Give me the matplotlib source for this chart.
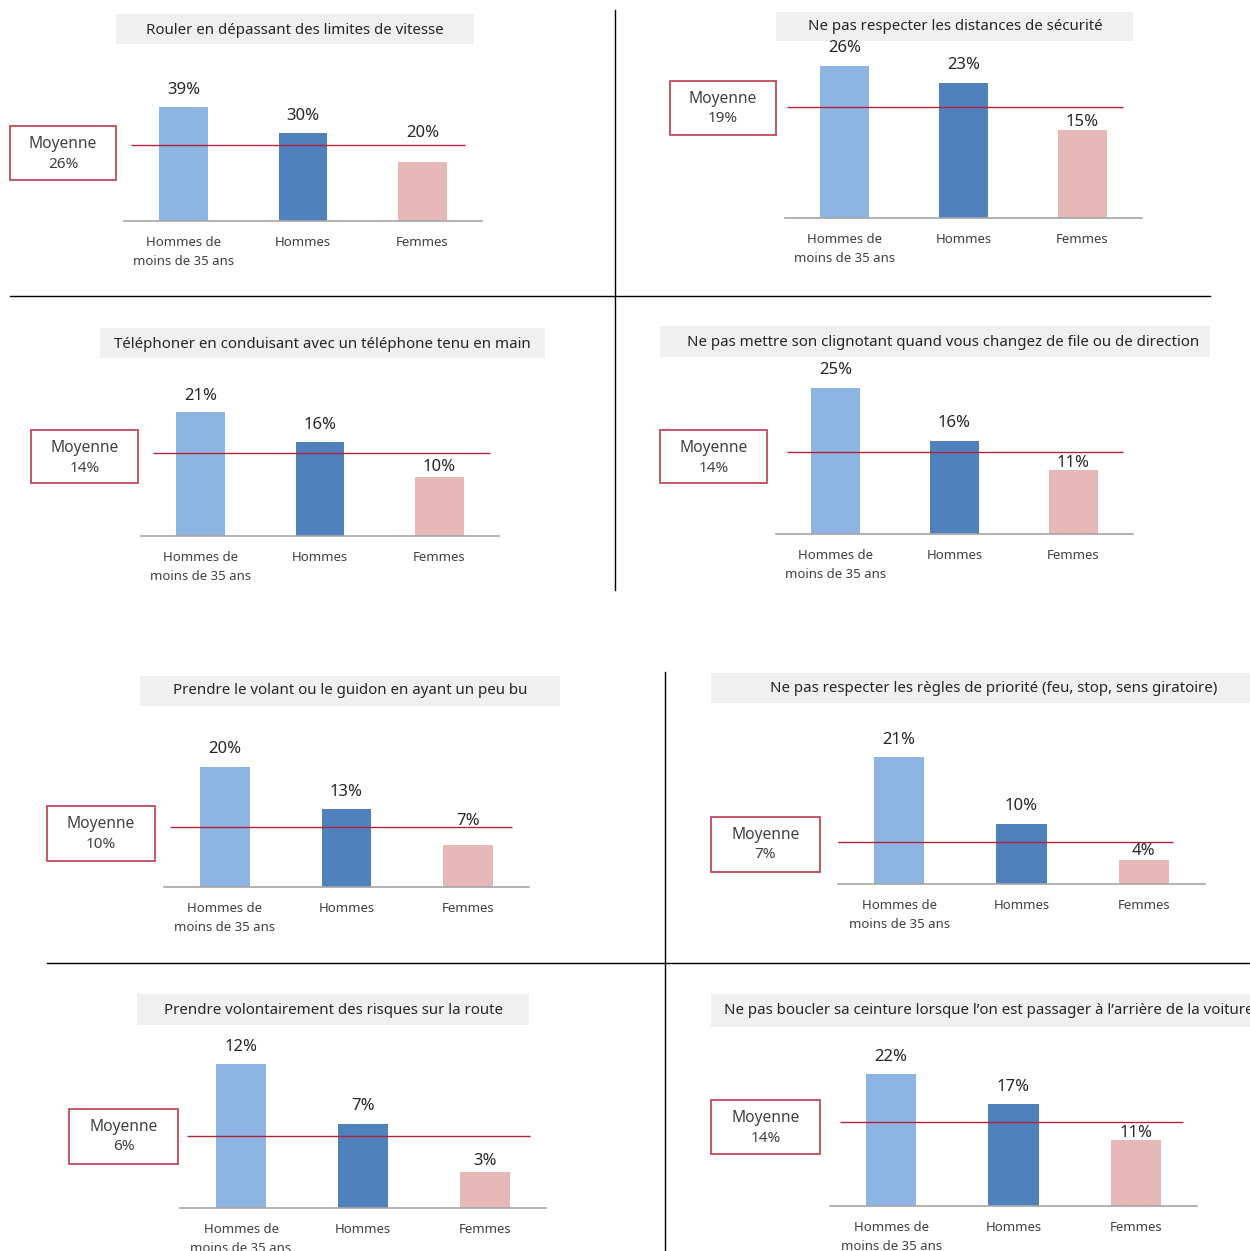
import matplotlib
matplotlib.use("Agg")
import matplotlib.pyplot as plt
from matplotlib.patches import Rectangle

plt.rcParams['font.family'] = ['Noto Sans', 'DejaVu Sans']

#%% donnees
categories = ["Hommes de\nmoins de 35 ans", "Hommes", "Femmes"]
titres = [
    "Rouler en dépassant des limites de vitesse",
    "Ne pas respecter les distances de sécurité",
    "Téléphoner en conduisant avec un téléphone tenu en main",
    "Ne pas mettre son clignotant quand vous changez de file ou de direction",
    "Prendre le volant ou le guidon en ayant un peu bu",
    "Ne pas respecter les règles de priorité (feu, stop, sens giratoire)",
    "Prendre volontairement des risques sur la route",
    "Ne pas boucler sa ceinture lorsque l’on est passager à l’arrière de la voiture",
]
valeurs = [
    [39, 30, 20],
    [26, 23, 15],
    [21, 16, 10],
    [25, 16, 11],
    [20, 13, 7],
    [21, 10, 4],
    [12, 7, 3],
    [22, 17, 11],
]
moyennes = [26, 19, 14, 14, 10, 7, 6, 14]

couleurs = ["#8DB4E2", "#4F81BD", "#E6B9B8"]
rouge_ligne = "#B0243A"
rouge_cadre = "#C0394B"

#%% mise en page (pixels de l'image)
W, H = 1250, 1251
# axe : x debut, x fin, ligne de base, px par %
axes_px = [
    (124, 482, 221, 2.93),
    (785, 1142, 218, 5.86),
    (141, 499, 536, 5.9),
    (776, 1133, 534, 5.84),
    (164, 529, 887, 6.0),
    (838, 1205, 884, 6.05),
    (180, 546, 1208, 12.0),
    (830, 1197, 1206, 6.0),
]
ligne_px = [(131, 465), (787, 1123), (153, 490), (787, 1123),
            (170, 512), (831, 1173), (187, 530), (840, 1183)]
titre_box = [(116, 474, 14, 44), (776, 1133, 12, 41), (100, 545, 328, 358),
             (660, 1210, 326, 357), (140, 560, 676, 706), (711, 1250, 673, 703),
             (137, 529, 994, 1025), (711, 1250, 994, 1027)]
titre_pos = [(295, 30, 'center'), (955, 27, 'center'), (322, 344, 'center'),
             (943, 342, 'center'), (350, 691, 'center'), (994, 688, 'center'),
             (334, 1010, 'center'), (724, 1010, 'left')]
moy_box = [(10, 116, 126, 180), (670, 776, 81, 135), (31, 138, 430, 483),
           (660, 767, 430, 483), (47, 155, 806, 861), (711, 820, 817, 872),
           (69, 178, 1109, 1164), (711, 820, 1100, 1154)]
decal = [(17, 17, 29), (18, 18, 8), (16, 17, 10), (18, 18, 7),
         (18, 17, 24), (17, 17, 9), (17, 18, 11), (17, 17, 7)]

fig = plt.figure(figsize=(W / 100, H / 100), dpi=100)
ov = fig.add_axes([0, 0, 1, 1], zorder=0)
ov.set_xlim(0, W)
ov.set_ylim(H, 0)
ov.axis('off')

# traits de separation
ov.plot([615, 615], [10, 590], color='black', lw=1)
ov.plot([10, 1210], [296, 296], color='black', lw=1)
ov.plot([665, 665], [672, 1251], color='black', lw=1)
ov.plot([47, 1250], [963, 963], color='black', lw=1)

for k in range(8):
    x0, x1, y0, y1 = titre_box[k]
    ov.add_patch(Rectangle((x0, y0), x1 - x0, y1 - y0, facecolor='#F0F0F0', edgecolor='none'))
    tx, ty, ha = titre_pos[k]
    ov.text(tx, ty, titres[k], ha=ha, va='center', fontsize=10.8, color='#262626')

    x0, x1, y0, y1 = moy_box[k]
    ov.add_patch(Rectangle((x0, y0), x1 - x0, y1 - y0, facecolor='white',
                           edgecolor=rouge_cadre, lw=1.2))
    cx = (x0 + x1) / 2
    ov.text(cx, y0 + 18, "Moyenne", ha='center', va='center', fontsize=11.2, color='#404040')
    ov.text(cx, y0 + 38, f"{moyennes[k]}%", ha='center', va='center', fontsize=11, color='#404040')

    a0, a1, base, ppp = axes_px[k]
    ymax = max(valeurs[k]) * 1.6
    ax = fig.add_axes([a0 / W, (H - base) / H, (a1 - a0) / W, ymax * ppp / H], zorder=1)
    ax.patch.set_alpha(0)
    ax.set_xlim(-0.5, 2.5)
    ax.set_ylim(0, ymax)
    ax.bar(range(3), valeurs[k], width=0.41, color=couleurs)
    step = (a1 - a0) / 3
    l0, l1 = ligne_px[k]
    ax.plot([(l0 - a0) / step - 0.5, (l1 - a0) / step - 0.5], [moyennes[k]] * 2,
            color=rouge_ligne, lw=1.0, solid_capstyle='butt')
    for i, v in enumerate(valeurs[k]):
        ax.annotate(f"{v}%", (i, v), xytext=(0, decal[k][i]), textcoords='offset pixels',
                    ha='center', va='center', fontsize=12, color='#262626')
    for s in ['top', 'right', 'left']:
        ax.spines[s].set_visible(False)
    ax.spines['bottom'].set_color('#A6A6A6')
    ax.spines['bottom'].set_linewidth(1.2)
    ax.set_yticks([])
    ax.set_xticks(range(3))
    ax.set_xticklabels(categories, fontsize=9.5, color='#404040', linespacing=1.55)
    ax.tick_params(axis='x', length=0, pad=11)

fig.savefig("out.png", dpi=100)
